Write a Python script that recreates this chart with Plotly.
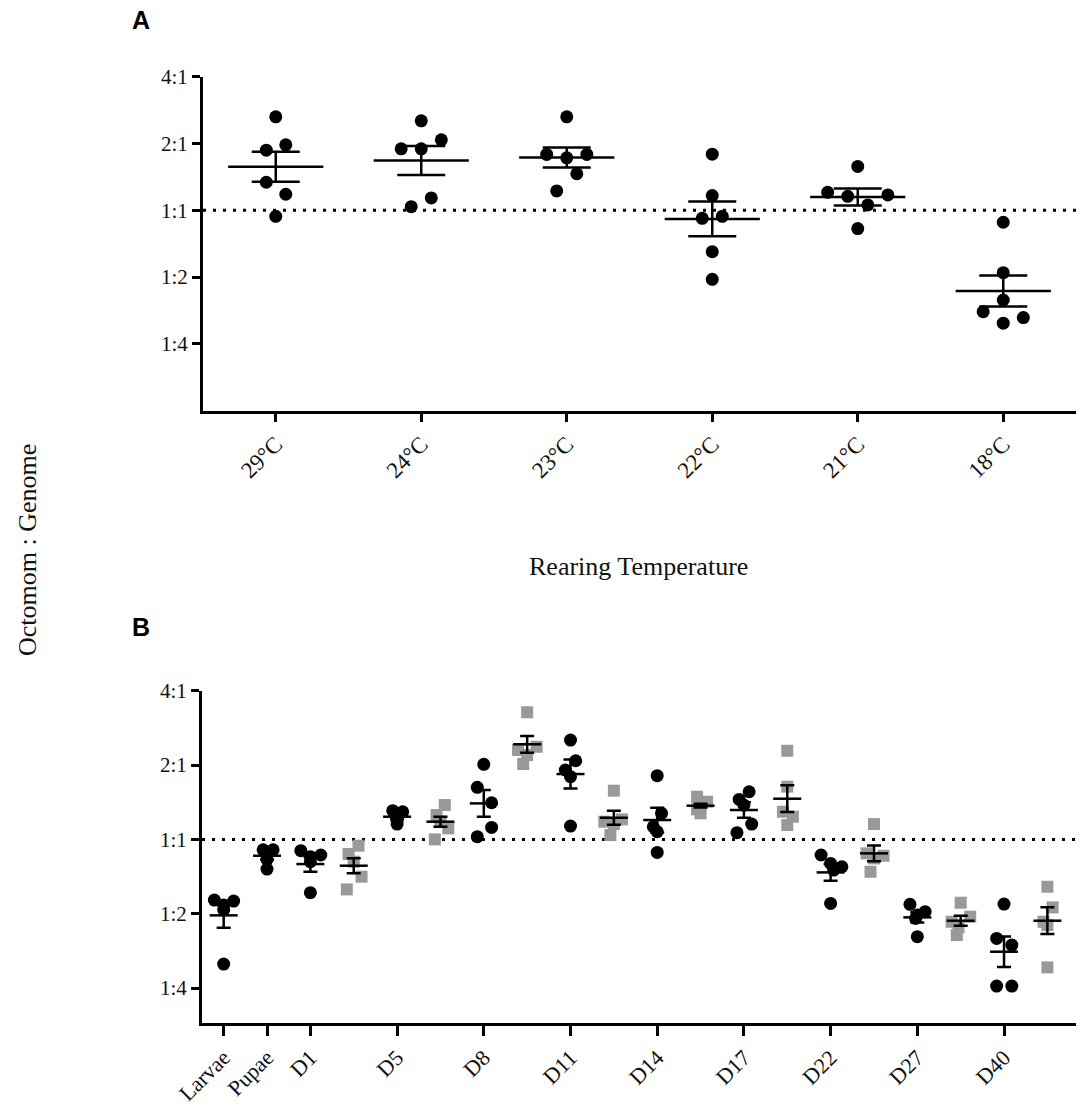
import plotly.graph_objects as go

W, H = 1084, 1107

# ---------------- Panel A data (log2 of Octomom:Genome ratio) ----------------
temps = ["29°C", "24°C", "23°C", "22°C", "21°C", "18°C"]
a_points = [
    [1.40, 0.90, 0.98, 0.42, 0.24, -0.09],
    [1.34, 0.92, 0.92, 1.055, 0.185, 0.055],
    [1.40, 0.836, 0.786, 0.836, 0.547, 0.29],
    [0.84, 0.22, -0.12, -0.09, -0.62, -1.034],
    [0.657, 0.269, 0.209, 0.23, 0.08, -0.273],
    [-0.179, -0.934, -1.343, -1.517, -1.606, -1.69],
]
a_mean = [0.652, 0.746, 0.790, -0.129, 0.200, -1.209]
a_sem = [0.225, 0.218, 0.149, 0.261, 0.127, 0.232]
# horizontal spread of overlapping dots (category units, layout only)
a_jitter = [
    [0, -0.065, 0.069, -0.065, 0.069, 0],
    [0, -0.138, 0, 0.138, 0.069, -0.069],
    [0, -0.138, 0, 0.138, 0.069, -0.069],
    [0, 0, -0.069, 0.069, 0, 0],
    [0, -0.207, -0.069, 0.207, 0.069, 0],
    [0, 0, 0, -0.138, 0.138, 0],
]

# ---------------- Panel B data ----------------
stages = ["Larvae", "Pupae", "D1", "", "D5", "", "D8", "", "D11", "", "D14", "",
          "D17", "", "D22", "", "D27", "", "D40", ""]
b_group = ["black", "black", "black", "gray", "black", "gray", "black", "gray", "black", "gray",
           "black", "gray", "black", "gray", "black", "gray", "black", "gray", "black", "gray"]
b_points = [
    [-0.816, -0.883, -0.83, -0.95, -1.677],
    [-0.14, -0.14, -0.20, -0.27, -0.40],
    [-0.152, -0.21, -0.233, -0.30, -0.717],
    [-0.085, -0.197, -0.30, -0.502, -0.673],
    [0.386, 0.372, 0.327, 0.26, 0.206],
    [0.462, 0.327, 0.238, 0.148, 0.0],
    [1.009, 0.70, 0.493, 0.161, 0.036],
    [1.709, 1.247, 1.202, 1.135, 1.013],
    [1.336, 1.058, 0.933, 0.843, 0.179],
    [0.655, 0.269, 0.238, 0.206, 0.058],
    [0.857, 0.35, 0.17, 0.103, -0.175],
    [0.574, 0.507, 0.453, 0.404, 0.35],
    [0.641, 0.538, 0.462, 0.206, 0.09],
    [1.193, 0.709, 0.372, 0.305, 0.193],
    [-0.21, -0.323, -0.368, -0.413, -0.861],
    [0.206, -0.188, -0.22, -0.256, -0.435],
    [-0.874, -0.973, -1.018, -1.063, -1.309],
    [-0.852, -1.04, -1.108, -1.184, -1.287],
    [-0.87, -1.332, -1.422, -1.973, -1.973],
    [-0.637, -0.915, -1.108, -1.152, -1.722],
]
b_mean = [-1.022, -0.22, -0.332, -0.354, 0.305, 0.238, 0.484, 1.278, 0.879, 0.291,
          0.26, 0.453, 0.395, 0.547, -0.444, -0.188, -1.049, -1.094, -1.511, -1.094]
b_sem = [0.166, 0.05, 0.103, 0.10, 0.035, 0.067, 0.18, 0.112, 0.195, 0.094,
         0.166, 0.025, 0.105, 0.18, 0.112, 0.107, 0.07, 0.067, 0.206, 0.18]
b_jitter = [
    [-0.215, 0, 0.23, 0, 0],
    [-0.09, 0.14, 0, 0, 0],
    [-0.22, 0.24, 0, 0, 0],
    [0.11, -0.12, 0, 0.18, -0.16],
    [-0.1, 0.13, 0, 0, 0],
    [0.1, -0.09, 0, 0.18, -0.13],
    [0, -0.15, 0.18, 0.18, -0.15],
    [0, 0.22, -0.21, 0, -0.09],
    [0, 0.12, -0.12, 0, 0],
    [0, 0.19, -0.22, 0, -0.08],
    [0, 0.1, -0.09, 0, 0],
    [-0.08, 0.15, 0, -0.08, 0],
    [0.12, -0.11, 0, 0.18, -0.16],
    [0, 0, -0.1, 0.13, 0],
    [-0.22, 0, 0.26, 0.07, 0],
    [0, -0.17, 0.22, 0, -0.08],
    [-0.17, 0.18, 0, -0.04, 0],
    [0, 0.22, -0.21, -0.05, -0.09],
    [0, -0.17, 0.18, -0.17, 0.18],
    [0, 0.12, -0.09, 0, 0],
]

ratio_ticks = [2, 1, 0, -1, -2]
ratio_labels = ["4:1", "2:1", "1:1", "1:2", "1:4"]
equal_ratio = 0

BLACK = "#000000"
GRAY = "#999999"
SERIF = "Liberation Serif, Times New Roman, serif"
SANS = "Liberation Sans, Arial, sans-serif"

fig = go.Figure()

# ---- Panel A ----
ax, ay = [], []
for i, (pts, jit) in enumerate(zip(a_points, a_jitter)):
    for v, j in zip(pts, jit):
        ax.append(i + j)
        ay.append(v)
fig.add_trace(go.Scatter(x=ax, y=ay, mode="markers", xaxis="x", yaxis="y",
                         marker=dict(color=BLACK, size=13, symbol="circle", line=dict(width=0)),
                         showlegend=False, hoverinfo="y"))
fig.add_trace(go.Scatter(x=list(range(len(temps))), y=a_mean, mode="markers", xaxis="x", yaxis="y",
                         marker=dict(symbol="line-ew", size=68, color=BLACK,
                                     line=dict(width=2.5, color=BLACK)),
                         error_y=dict(type="data", array=a_sem, visible=True, color=BLACK,
                                      thickness=2.5, width=24),
                         showlegend=False, hoverinfo="y"))

# ---- Panel B ----
for grp, col, sym in [("black", BLACK, "circle"), ("gray", GRAY, "square")]:
    bx, by = [], []
    for i, (pts, jit) in enumerate(zip(b_points, b_jitter)):
        if b_group[i] != grp:
            continue
        for v, j in zip(pts, jit):
            bx.append(i + j)
            by.append(v)
    fig.add_trace(go.Scatter(x=bx, y=by, mode="markers", xaxis="x2", yaxis="y2",
                             marker=dict(color=col, size=13 if sym == "circle" else 12,
                                         symbol=sym, line=dict(width=0)),
                             showlegend=False, hoverinfo="y"))
fig.add_trace(go.Scatter(x=list(range(len(stages))), y=b_mean, mode="markers", xaxis="x2", yaxis="y2",
                         marker=dict(symbol="line-ew", size=20, color=BLACK,
                                     line=dict(width=2.5, color=BLACK)),
                         error_y=dict(type="data", array=b_sem, visible=True, color=BLACK,
                                      thickness=2.5, width=7),
                         showlegend=False, hoverinfo="y"))

# reference 1:1 lines
for xr, yr in [("x domain", "y"), ("x2 domain", "y2")]:
    fig.add_shape(type="line", xref=xr, yref=yr, x0=0, x1=1, y0=equal_ratio, y1=equal_ratio,
                  line=dict(color=BLACK, width=3, dash="3px,7px"), layer="below")

def px_x(p):
    return p / W

def px_y(p):
    return 1 - p / H

tickfont = dict(family=SERIF, size=21, color="#111111")
common_axis = dict(showline=True, linecolor=BLACK, linewidth=3, ticks="outside", tickwidth=3,
                   tickcolor=BLACK, showgrid=False, zeroline=False, automargin=False)

b_tickvals = [i for i, s in enumerate(stages) if s]
b_ticktext = [s for s in stages if s]

fig.update_layout(
    width=W, height=H, margin=dict(l=0, r=0, t=0, b=0, autoexpand=False),
    paper_bgcolor="white", plot_bgcolor="white",
    xaxis=dict(domain=[px_x(203), px_x(1076)], range=[-0.5, 5.5], anchor="y",
               tickvals=list(range(len(temps))), ticktext=temps, tickangle=-45, ticklen=8,
               tickfont=dict(family=SERIF, size=23, color="#111111"), **common_axis),
    yaxis=dict(domain=[px_y(410.7), px_y(76.7)], range=[-3, 2], anchor="x",
               tickvals=ratio_ticks, ticktext=ratio_labels, ticklen=8, tickfont=tickfont,
               **common_axis),
    xaxis2=dict(domain=[px_x(202), px_x(1076)], range=[-0.5, 19.66], anchor="y2",
                tickvals=b_tickvals, ticktext=b_ticktext, tickangle=-45, ticklen=10,
                tickfont=dict(family=SERIF, size=22, color="#111111"), **common_axis),
    yaxis2=dict(domain=[px_y(1023), px_y(690.7)], range=[-2.47, 2], anchor="x2",
                tickvals=ratio_ticks, ticktext=ratio_labels, ticklen=8, tickfont=tickfont,
                **common_axis),
    annotations=[
        dict(text="<b>A</b>", x=px_x(141), y=px_y(20), xref="paper", yref="paper",
             xanchor="center", yanchor="middle",
             showarrow=False, font=dict(family=SANS, size=25, color=BLACK)),
        dict(text="<b>B</b>", x=px_x(141), y=px_y(627), xref="paper", yref="paper",
             xanchor="center", yanchor="middle",
             showarrow=False, font=dict(family=SANS, size=25, color=BLACK)),
        dict(text="Rearing Temperature", x=px_x(638), y=px_y(566), xref="paper", yref="paper",
             xanchor="center", yanchor="middle",
             showarrow=False, font=dict(family=SERIF, size=26, color="#111111")),
        dict(text="Octomom : Genome", x=px_x(27), y=px_y(550), xref="paper", yref="paper",
             xanchor="center", yanchor="middle",
             showarrow=False, textangle=-90, font=dict(family=SERIF, size=26, color="#111111")),
    ],
)

fig.write_html("out.html")
